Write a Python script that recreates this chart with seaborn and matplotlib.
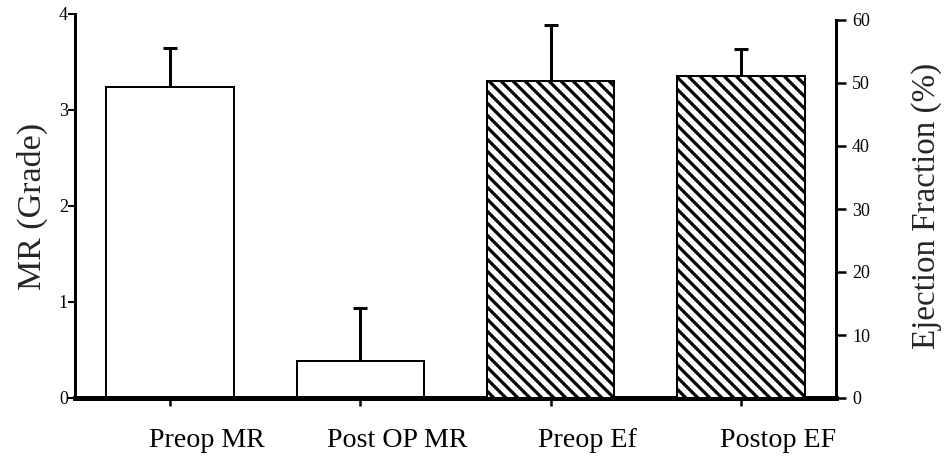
import matplotlib
matplotlib.use("Agg")
import matplotlib.pyplot as plt
from matplotlib.transforms import ScaledTranslation
import seaborn as sns
import numpy as np
import pandas as pd

# values
categories = ["Preop MR", "Post OP MR", "Preop Ef", "Postop EF"]
mr_groups = ["Preop MR", "Post OP MR"]
mr_mean = [3.24, 0.39]
mr_sd = [0.41, 0.55]
ef_groups = ["Preop Ef", "Postop EF"]
ef_mean = [50.3, 51.1]
ef_sd = [8.9, 4.3]

sns.set_style("white")
plt.rcParams["font.family"] = ["Liberation Serif", "DejaVu Serif"]
plt.rcParams["hatch.linewidth"] = 3.2
plt.rcParams["hatch.color"] = "black"

DPI = 72
fig = plt.figure(figsize=(944 / DPI, 465 / DPI), dpi=DPI)
ax = fig.add_axes([75 / 944, 1 - 398 / 465, (836 - 75) / 944, 384 / 465])
ax2 = ax.twinx()

mr = pd.DataFrame({"group": mr_groups, "value": mr_mean})
ef = pd.DataFrame({"group": ef_groups, "value": ef_mean})

sns.barplot(data=mr, x="group", y="value", order=categories, color="white",
            edgecolor="black", linewidth=2, width=0.67, errorbar=None, ax=ax)
sns.barplot(data=ef, x="group", y="value", order=categories, color="white",
            edgecolor="black", linewidth=2, width=0.67, errorbar=None,
            hatch="\\\\", ax=ax2)


def add_err(axis, groups, means, sds):
    pos = [categories.index(g) for g in groups]
    _, caps, _ = axis.errorbar(pos, means, yerr=[np.zeros(len(sds)), sds],
                               fmt="none", ecolor="black", elinewidth=3,
                               capsize=7, capthick=3)
    # only the upper cap is drawn
    for c in caps:
        if np.allclose(c.get_ydata(), means):
            c.set_visible(False)


add_err(ax, mr_groups, mr_mean, mr_sd)
add_err(ax2, ef_groups, ef_mean, ef_sd)

ax.set_xlim(-0.5, 3.5)
ax.set_ylim(0, 4)
ax.set_yticks([0, 1, 2, 3, 4])
ax2.set_ylim(0, 60 * 384 / 378)
ax2.set_yticks(range(0, 61, 10))

for s in ["top", "right"]:
    ax.spines[s].set_visible(False)
for s in ["top", "left", "bottom"]:
    ax2.spines[s].set_visible(False)
ax.spines["left"].set_linewidth(3)
ax.spines["bottom"].set_linewidth(5)
ax2.spines["right"].set_linewidth(3)
ax2.spines["right"].set_bounds(0, 60)
for s in ax.spines.values():
    s.set_color("black")
ax2.spines["right"].set_color("black")

ax.set_xlabel("")
ax.set_ylabel("MR (Grade)", fontsize=34, labelpad=11)
ax2.set_ylabel("Ejection Fraction (%)", fontsize=33, labelpad=41)

ax.tick_params(axis="x", bottom=True, length=8, width=2.5, labelsize=28,
               pad=22, colors="black")
ax.tick_params(axis="y", left=True, length=7, width=2, labelsize=18, pad=0,
               colors="black")
ax2.tick_params(axis="y", right=True, length=10, width=2.5, labelsize=18,
                pad=6, colors="black")

# category labels sit a bit right of their ticks in the original
for lbl in ax.get_xticklabels():
    lbl.set_transform(lbl.get_transform() +
                      ScaledTranslation(37 / 72, 0, fig.dpi_scale_trans))

fig.savefig("out.png", dpi=DPI)
